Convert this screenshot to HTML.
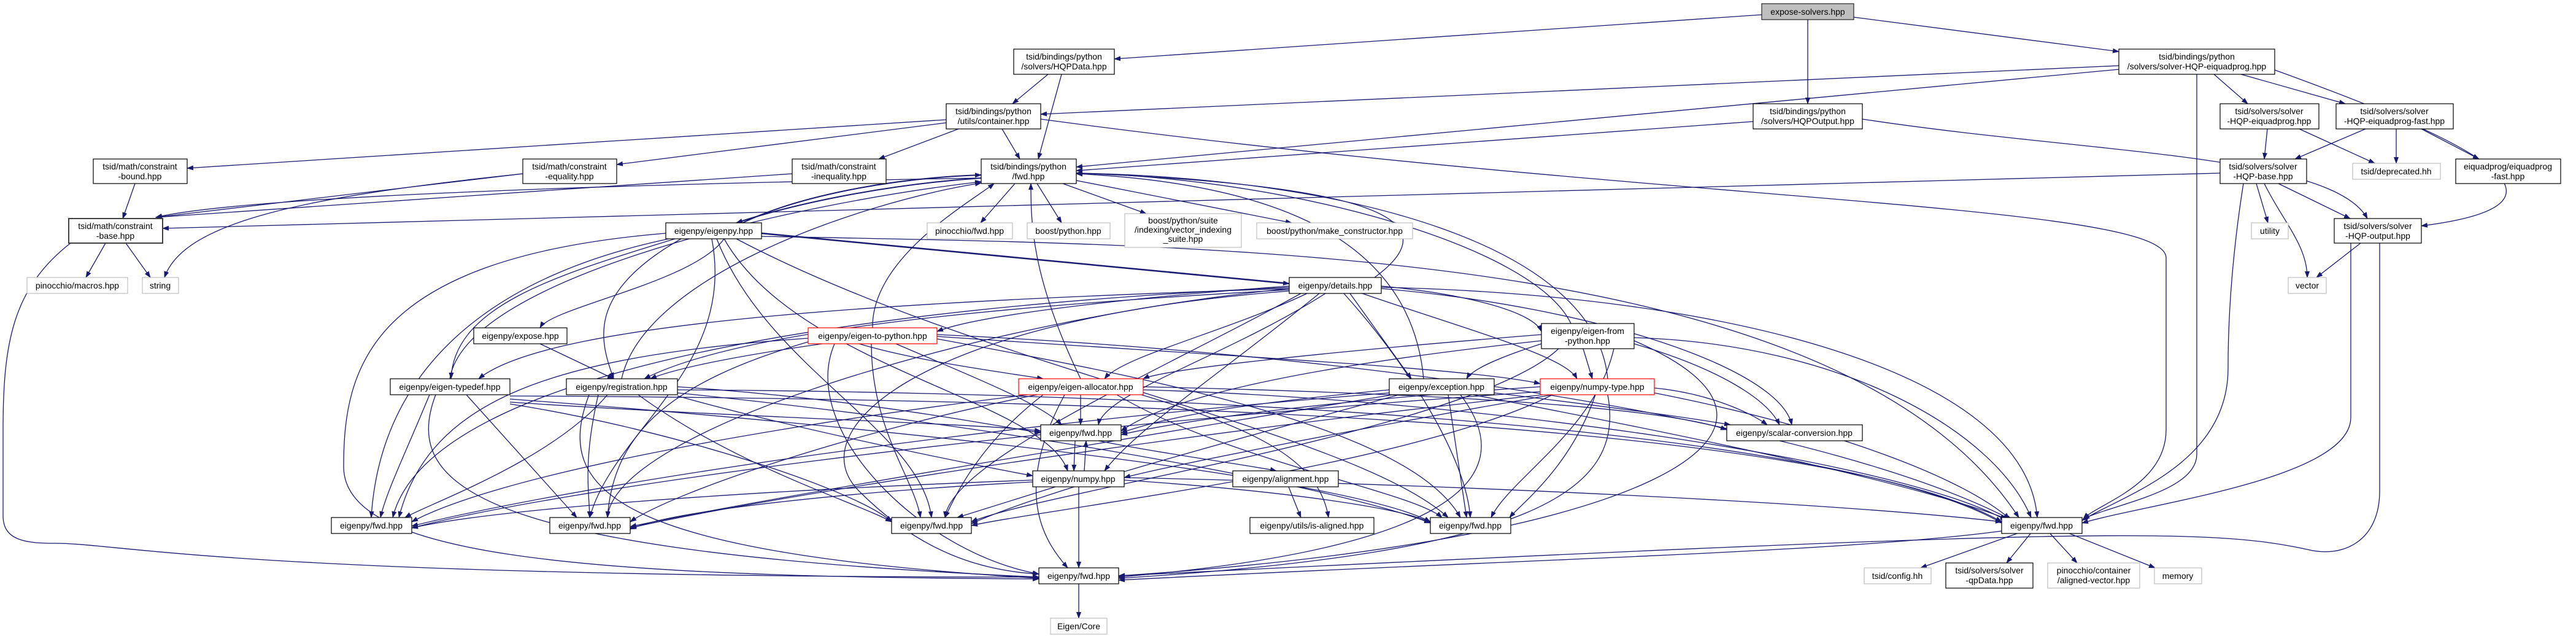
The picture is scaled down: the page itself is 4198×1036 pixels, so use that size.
<!DOCTYPE html>
<html><head><meta charset="utf-8"><style>
html,body{margin:0;padding:0;background:#fff;}
svg{display:block;}
text{font-family:"Liberation Sans",sans-serif;font-size:14px;fill:#000;text-anchor:middle;}
.e{fill:none;stroke:#191970;stroke-width:1.3;marker-end:url(#a);}
.n{fill:#fff;stroke:#000;stroke-width:1.2;}
.g{fill:#fff;stroke:#bfbfbf;stroke-width:1.2;}
.r{fill:#fff;stroke:#ff0000;stroke-width:1.2;}
</style></head><body>
<svg width="4198" height="1036" viewBox="0 0 4198 1036" xmlns="http://www.w3.org/2000/svg">
<defs><marker id="a" markerWidth="11" markerHeight="8" refX="10" refY="4" orient="auto" markerUnits="userSpaceOnUse"><path d="M0,0 L11,4 L0,8z" fill="#191970"/></marker></defs>
<g>
<path class="e" d="M2871 24 L1816 96"/>
<path class="e" d="M2946 32 L2946 169"/>
<path class="e" d="M3021 28 L3453 84"/>
<path class="e" d="M1708 121 L1650 169"/>
<path class="e" d="M1730 121 L1692 259"/>
<path class="e" d="M3453 107 L1696 186"/>
<path class="e" d="M3453 113 L1754 272"/>
<path class="e" d="M3580 121 L3580 740 C3580 800 3450 820 3395 845"/>
<path class="e" d="M3608 121 L3663 169"/>
<path class="e" d="M3652 121 L3822 169"/>
<path class="e" d="M3707 114 C4000 220 4250 330 3946 368"/>
<path class="e" d="M2857 198 L1754 278"/>
<path class="e" d="M3035 194 C3400 250 3800 250 3858 356"/>
<path class="e" d="M1542 195 L305 274"/>
<path class="e" d="M1542 200 L1005 268"/>
<path class="e" d="M1562 210 L1432 259"/>
<path class="e" d="M1633 210 L1662 259"/>
<path class="e" d="M1696 194 C2700 330 3530 330 3530 420 L3530 700 C3530 790 3420 820 3395 845"/>
<path class="e" d="M3618 282 L265 372"/>
<path class="e" d="M3677 299 L3696 363"/>
<path class="e" d="M3690 299 C3720 360 3760 400 3760 452"/>
<path class="e" d="M3713 299 L3830 356"/>
<path class="e" d="M3656 299 C3640 400 3631 500 3631 600 C3631 760 3450 810 3393 848"/>
<path class="e" d="M3831 396 C3831 500 3831 600 3831 680 C3831 780 3500 820 3393 852"/>
<path class="e" d="M3878 396 L3878 800 C3878 880 3820 910 3760 895 C3600 860 3400 860 1823 938"/>
<path class="e" d="M3847 396 L3775 452"/>
<path class="e" d="M3695 210 L3690 259"/>
<path class="e" d="M3747 210 L3870 266"/>
<path class="e" d="M3855 210 L3740 259"/>
<path class="e" d="M3905 210 L3905 266"/>
<path class="e" d="M3946 210 L4040 259"/>
<path class="e" d="M220 299 L200 356"/>
<path class="e" d="M852 283 L254 354"/>
<path class="e" d="M852 283 C500 320 300 360 268 452"/>
<path class="e" d="M1291 283 L254 354"/>
<path class="e" d="M1599 290 C1000 300 400 320 254 354"/>
<path class="e" d="M172 396 L140 452"/>
<path class="e" d="M205 396 L245 452"/>
<path class="e" d="M115 396 C20 470 5 560 5 700 L5 840 C5 880 40 885 90 885 C200 885 380 940 1693 940"/>
<path class="e" d="M1654 299 L1598 363"/>
<path class="e" d="M1690 299 L1730 363"/>
<path class="e" d="M1732 299 L1868 348"/>
<path class="e" d="M1754 294 L2105 363"/>
<path class="e" d="M1210 363 C1300 320 1450 290 1599 285" style="stroke-width:2"/>
<path class="e" d="M1599 290 C1450 300 1300 330 1200 363" style="stroke-width:2"/>
<path class="e" d="M2240 452 C2380 350 2200 300 1754 282"/>
<path class="e" d="M1422 534 C1420 420 1580 330 1620 299"/>
<path class="e" d="M733 617 C760 450 1300 330 1599 296"/>
<path class="e" d="M1013 617 C1050 450 1400 330 1599 298"/>
<path class="e" d="M1761 617 C1680 450 1680 360 1680 299"/>
<path class="e" d="M2320 617 C2300 400 2100 300 1754 283"/>
<path class="e" d="M2560 527 C2500 400 2100 290 1754 282"/>
<path class="e" d="M2620 617 C2600 400 2200 290 1754 282"/>
<path class="e" d="M1241 380 L2101 462" style="stroke-width:2.5"/>
<path class="e" d="M1180 389 C1130 460 900 500 880 534"/>
<path class="e" d="M1100 389 C900 450 740 500 735 617"/>
<path class="e" d="M1110 389 C950 480 980 560 1000 617"/>
<path class="e" d="M1090 389 C800 450 620 600 605 843"/>
<path class="e" d="M1160 389 C1200 600 1000 700 961 843"/>
<path class="e" d="M1168 389 C1250 600 1500 700 1518 843"/>
<path class="e" d="M1085 380 C600 420 560 600 560 760 C560 900 900 940 1693 943"/>
<path class="e" d="M1241 385 C2000 400 3000 400 3290 843"/>
<path class="e" d="M1200 389 C1600 600 2200 700 2360 843"/>
<path class="e" d="M1180 389 C1300 600 1700 650 1740 767"/>
<path class="e" d="M2101 466 C1900 480 1600 510 1527 540"/>
<path class="e" d="M2251 466 C2400 480 2500 510 2512 540"/>
<path class="e" d="M2101 470 C1500 490 900 520 780 617"/>
<path class="e" d="M2101 472 C1600 500 1200 540 1050 617"/>
<path class="e" d="M2130 478 C2000 540 1830 580 1800 617"/>
<path class="e" d="M2200 478 L2300 617"/>
<path class="e" d="M2220 478 C2400 540 2550 580 2570 617"/>
<path class="e" d="M2251 470 C2600 500 2900 600 2920 692"/>
<path class="e" d="M2101 468 C1400 500 700 600 640 843"/>
<path class="e" d="M2101 470 C1600 520 1000 700 990 843"/>
<path class="e" d="M2160 478 C2000 580 1800 640 1790 692"/>
<path class="e" d="M2120 478 C1900 600 1550 750 1540 843"/>
<path class="e" d="M2190 478 C2300 600 2390 750 2396 843"/>
<path class="e" d="M2251 468 C2800 480 3300 600 3320 843"/>
<path class="e" d="M2101 474 C1500 520 1300 700 1400 800 C1500 900 1600 930 1693 935"/>
<path class="e" d="M2150 478 C2000 600 1850 700 1800 767"/>
<path class="e" d="M880 560 L1000 617"/>
<path class="e" d="M1340 560 C1200 580 1100 600 1060 617"/>
<path class="e" d="M1400 560 C1500 590 1660 610 1700 617"/>
<path class="e" d="M1460 560 C1600 620 1700 660 1730 692"/>
<path class="e" d="M1527 548 C2000 580 2400 600 2510 625"/>
<path class="e" d="M1317 551 C900 580 700 650 650 843"/>
<path class="e" d="M1320 556 C1100 620 1000 700 990 843"/>
<path class="e" d="M1420 560 C1420 700 1490 780 1500 843"/>
<path class="e" d="M1527 552 C1900 620 2300 700 2380 843"/>
<path class="e" d="M1527 545 C2300 580 3000 700 3280 848"/>
<path class="e" d="M1360 560 C1300 700 1500 900 1693 935"/>
<path class="e" d="M2512 545 C2200 570 1900 600 1863 617"/>
<path class="e" d="M2580 568 L2595 617"/>
<path class="e" d="M2512 560 C2450 580 2400 600 2390 617"/>
<path class="e" d="M2663 560 C2800 600 2880 650 2900 692"/>
<path class="e" d="M2512 555 C2100 600 1900 650 1827 702"/>
<path class="e" d="M2540 568 C2400 700 1700 800 1583 850"/>
<path class="e" d="M2630 568 C2600 700 2460 780 2430 843"/>
<path class="e" d="M2663 550 C3000 560 3250 700 3310 843"/>
<path class="e" d="M2663 555 C3000 700 2700 880 1823 938"/>
<path class="e" d="M700 643 C660 740 630 800 620 843"/>
<path class="e" d="M760 643 L940 843"/>
<path class="e" d="M831 655 C1200 680 1600 690 1696 702"/>
<path class="e" d="M831 658 C1100 700 1400 800 1453 850"/>
<path class="e" d="M831 650 C1500 700 2200 780 2331 850"/>
<path class="e" d="M710 643 C650 800 800 900 1693 940"/>
<path class="e" d="M831 645 C2000 650 3000 700 3262 850"/>
<path class="e" d="M990 643 C900 750 700 820 660 843"/>
<path class="e" d="M975 643 C950 750 960 800 961 843"/>
<path class="e" d="M1104 630 C1400 650 1600 690 1696 705"/>
<path class="e" d="M1040 643 C1200 760 1400 820 1453 850"/>
<path class="e" d="M1104 640 C1700 700 2200 800 2331 852"/>
<path class="e" d="M1104 635 C2000 640 3000 700 3262 852"/>
<path class="e" d="M960 643 C900 800 1000 900 1693 942"/>
<path class="e" d="M1104 645 C1300 700 1600 760 1683 775"/>
<path class="e" d="M1761 643 L1761 692"/>
<path class="e" d="M1700 643 C1600 720 1560 800 1540 843"/>
<path class="e" d="M1820 643 C2000 750 2300 800 2350 843"/>
<path class="e" d="M1735 643 C1650 800 1700 880 1740 925"/>
<path class="e" d="M1860 643 C2050 700 2150 750 2165 843"/>
<path class="e" d="M1863 630 C2300 640 2700 660 2814 700"/>
<path class="e" d="M1863 635 C2400 650 3100 750 3270 848"/>
<path class="e" d="M1700 640 C1200 700 800 780 671 850"/>
<path class="e" d="M1690 643 C1400 700 1100 800 1027 850"/>
<path class="e" d="M2264 635 C2000 660 1900 680 1827 705"/>
<path class="e" d="M2280 643 C2000 720 1700 800 1583 853"/>
<path class="e" d="M2360 643 L2390 843"/>
<path class="e" d="M2380 643 C2500 800 2300 900 1823 940"/>
<path class="e" d="M2400 643 C2700 700 3100 780 3270 845"/>
<path class="e" d="M2435 640 C2600 660 2750 680 2820 692"/>
<path class="e" d="M2264 640 C1500 700 900 800 671 857"/>
<path class="e" d="M2270 643 C1800 720 1200 820 1027 858"/>
<path class="e" d="M2510 630 C2200 650 1950 680 1827 708"/>
<path class="e" d="M2530 643 C2300 760 1700 830 1583 856"/>
<path class="e" d="M2600 643 C2560 760 2480 820 2460 843"/>
<path class="e" d="M2620 643 C2650 800 2500 900 1823 942"/>
<path class="e" d="M2696 640 C3000 700 3200 780 3275 845"/>
<path class="e" d="M2696 632 C2780 640 2850 670 2880 692"/>
<path class="e" d="M2530 643 C2200 700 1900 760 1832 778"/>
<path class="e" d="M2510 638 C1600 700 900 800 671 860"/>
<path class="e" d="M2515 643 C1800 720 1200 820 1027 860"/>
<path class="e" d="M1752 718 L1750 767"/>
<path class="e" d="M1767 767 L1770 718"/>
<path class="e" d="M1790 718 C1900 740 2050 760 2080 767"/>
<path class="e" d="M1683 782 C1200 800 800 830 671 860"/>
<path class="e" d="M1683 785 C1400 800 1100 830 1027 862"/>
<path class="e" d="M1720 793 L1560 843"/>
<path class="e" d="M1832 782 C2100 800 2300 830 2331 852"/>
<path class="e" d="M1832 778 C2400 790 3000 820 3262 850"/>
<path class="e" d="M1758 793 L1758 925"/>
<path class="e" d="M2100 793 L2120 843"/>
<path class="e" d="M1758 951 L1758 1007"/>
<path class="e" d="M3290 868 L3130 925"/>
<path class="e" d="M3310 868 L3270 917"/>
<path class="e" d="M3340 868 L3385 917"/>
<path class="e" d="M3370 868 L3512 925"/>
<path class="e" d="M3262 865 C3000 900 2500 910 1823 945"/>
</g>
<g>
<rect x="2871" y="6" width="150" height="26" fill="#bfbfbf" stroke="#000"/><text x="2946" y="24">expose-solvers.hpp</text>
<rect class="n" x="1652" y="80" width="164" height="41"/><text x="1734" y="97">tsid/bindings/python</text><text x="1734" y="113">/solvers/HQPData.hpp</text>
<rect class="n" x="3453" y="80" width="254" height="41"/><text x="3580" y="97">tsid/bindings/python</text><text x="3580" y="113">/solvers/solver-HQP-eiquadprog.hpp</text>
<rect class="n" x="1542" y="169" width="154" height="41"/><text x="1619" y="186">tsid/bindings/python</text><text x="1619" y="202">/utils/container.hpp</text>
<rect class="n" x="2857" y="169" width="178" height="41"/><text x="2946" y="186">tsid/bindings/python</text><text x="2946" y="202">/solvers/HQPOutput.hpp</text>
<rect class="n" x="3618" y="169" width="161" height="41"/><text x="3698" y="186">tsid/solvers/solver</text><text x="3698" y="202">-HQP-eiquadprog.hpp</text>
<rect class="n" x="3807" y="169" width="191" height="41"/><text x="3902" y="186">tsid/solvers/solver</text><text x="3902" y="202">-HQP-eiquadprog-fast.hpp</text>
<rect class="n" x="152" y="259" width="153" height="40"/><text x="228" y="276">tsid/math/constraint</text><text x="228" y="292">-bound.hpp</text>
<rect class="n" x="852" y="259" width="153" height="40"/><text x="928" y="276">tsid/math/constraint</text><text x="928" y="292">-equality.hpp</text>
<rect class="n" x="1291" y="259" width="153" height="40"/><text x="1367" y="276">tsid/math/constraint</text><text x="1367" y="292">-inequality.hpp</text>
<rect class="n" x="1599" y="259" width="155" height="40"/><text x="1676" y="276">tsid/bindings/python</text><text x="1676" y="292">/fwd.hpp</text>
<rect class="n" x="3618" y="259" width="141" height="40"/><text x="3688" y="276">tsid/solvers/solver</text><text x="3688" y="292">-HQP-base.hpp</text>
<rect class="g" x="3834" y="266" width="143" height="26"/><text x="3905" y="284">tsid/deprecated.hh</text>
<rect class="n" x="4002" y="259" width="171" height="40"/><text x="4087" y="276">eiquadprog/eiquadprog</text><text x="4087" y="292">-fast.hpp</text>
<rect class="n" x="112" y="356" width="153" height="40" style="stroke:#404040;stroke-width:2"/><text x="188" y="373">tsid/math/constraint</text><text x="188" y="389">-base.hpp</text>
<rect class="n" x="1085" y="363" width="156" height="26"/><text x="1163" y="381">eigenpy/eigenpy.hpp</text>
<rect class="g" x="1511" y="363" width="139" height="26"/><text x="1580" y="381">pinocchio/fwd.hpp</text>
<rect class="g" x="1674" y="363" width="135" height="26"/><text x="1741" y="381">boost/python.hpp</text>
<rect class="g" x="1833" y="348" width="190" height="55"/><text x="1928" y="364">boost/python/suite</text><text x="1928" y="379">/indexing/vector_indexing</text><text x="1928" y="394">_suite.hpp</text>
<rect class="g" x="2048" y="363" width="254" height="26"/><text x="2175" y="381">boost/python/make_constructor.hpp</text>
<rect class="g" x="3669" y="363" width="60" height="26"/><text x="3699" y="381">utility</text>
<rect class="n" x="3804" y="356" width="142" height="40"/><text x="3875" y="373">tsid/solvers/solver</text><text x="3875" y="389">-HQP-output.hpp</text>
<rect class="g" x="44" y="452" width="164" height="26"/><text x="126" y="470">pinocchio/macros.hpp</text>
<rect class="g" x="232" y="452" width="59" height="26"/><text x="261" y="470">string</text>
<rect class="n" x="2101" y="452" width="150" height="26"/><text x="2176" y="470">eigenpy/details.hpp</text>
<rect class="g" x="3729" y="452" width="62" height="26"/><text x="3760" y="470">vector</text>
<rect class="n" x="772" y="534" width="152" height="26"/><text x="848" y="552">eigenpy/expose.hpp</text>
<rect class="r" x="1317" y="534" width="210" height="26"/><text x="1422" y="552">eigenpy/eigen-to-python.hpp</text>
<rect class="n" x="2512" y="527" width="151" height="41"/><text x="2587" y="544">eigenpy/eigen-from</text><text x="2587" y="560">-python.hpp</text>
<rect class="n" x="636" y="617" width="195" height="26"/><text x="733" y="635">eigenpy/eigen-typedef.hpp</text>
<rect class="n" x="923" y="617" width="181" height="26"/><text x="1013" y="635">eigenpy/registration.hpp</text>
<rect class="r" x="1660" y="617" width="203" height="26"/><text x="1761" y="635">eigenpy/eigen-allocator.hpp</text>
<rect class="n" x="2264" y="617" width="171" height="26"/><text x="2349" y="635">eigenpy/exception.hpp</text>
<rect class="r" x="2510" y="617" width="186" height="26"/><text x="2603" y="635">eigenpy/numpy-type.hpp</text>
<rect class="n" x="1696" y="692" width="131" height="26"/><text x="1761" y="710">eigenpy/fwd.hpp</text>
<rect class="n" x="2814" y="692" width="221" height="26"/><text x="2924" y="710">eigenpy/scalar-conversion.hpp</text>
<rect class="n" x="1683" y="767" width="149" height="26"/><text x="1757" y="785">eigenpy/numpy.hpp</text>
<rect class="n" x="2009" y="767" width="172" height="26"/><text x="2095" y="785">eigenpy/alignment.hpp</text>
<rect class="n" x="540" y="843" width="131" height="26"/><text x="605" y="861">eigenpy/fwd.hpp</text>
<rect class="n" x="896" y="843" width="131" height="26"/><text x="961" y="861">eigenpy/fwd.hpp</text>
<rect class="n" x="1453" y="843" width="130" height="26"/><text x="1518" y="861">eigenpy/fwd.hpp</text>
<rect class="n" x="2037" y="843" width="202" height="26"/><text x="2138" y="861">eigenpy/utils/is-aligned.hpp</text>
<rect class="n" x="2331" y="843" width="131" height="26"/><text x="2396" y="861">eigenpy/fwd.hpp</text>
<rect class="n" x="3262" y="843" width="131" height="26"/><text x="3327" y="861">eigenpy/fwd.hpp</text>
<rect class="n" x="1693" y="925" width="130" height="26"/><text x="1758" y="943">eigenpy/fwd.hpp</text>
<rect class="g" x="3038" y="925" width="109" height="26"/><text x="3092" y="943">tsid/config.hh</text>
<rect class="n" x="3171" y="917" width="142" height="41"/><text x="3242" y="934">tsid/solvers/solver</text><text x="3242" y="950">-qpData.hpp</text>
<rect class="g" x="3337" y="917" width="150" height="41"/><text x="3412" y="934">pinocchio/container</text><text x="3412" y="950">/aligned-vector.hpp</text>
<rect class="g" x="3511" y="925" width="77" height="26"/><text x="3549" y="943">memory</text>
<rect class="g" x="1712" y="1007" width="92" height="26"/><text x="1758" y="1025">Eigen/Core</text>
</g>
</svg>
</body></html>
